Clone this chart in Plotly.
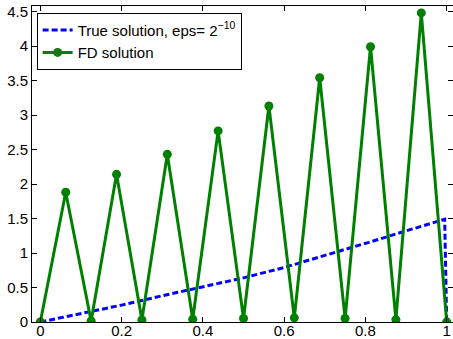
import plotly.graph_objects as go

# FD mesh (h = 1/16) and computed solution values
fd_x = [i / 16 for i in range(17)]
fd_y = [0.0, 1.88, 0.015, 2.14, 0.03, 2.43, 0.04, 2.77, 0.05,
        3.13, 0.06, 3.54, 0.05, 3.99, 0.035, 4.48, 0.0]

# True solution with boundary layer at x = 1
true_x = [0.0, 0.1, 0.2, 0.3, 0.4, 0.5, 0.6, 0.7, 0.8, 0.9, 0.995, 1.0]
true_y = [0.0, 0.12, 0.245, 0.38, 0.51, 0.64, 0.79, 0.96, 1.14, 1.32, 1.49, 0.0]

x_ticks = [0, 0.2, 0.4, 0.6, 0.8, 1]
x_tick_text = ["0", "0.2", "0.4", "0.6", "0.8", "1"]
y_ticks = [0, 0.5, 1, 1.5, 2, 2.5, 3, 3.5, 4, 4.5]
y_tick_text = ["0", "0.5", "1", "1.5", "2", "2.5", "3", "3.5", "4", "4.5"]

FONT = "Liberation Sans, Arial, sans-serif"

fig = go.Figure()
fig.add_trace(go.Scatter(
    x=true_x, y=true_y, mode="lines",
    name="True solution, eps= 2<sup>\u221210</sup>",
    line=dict(color="rgb(0,0,255)", width=3, dash="6px,3px"),
))
fig.add_trace(go.Scatter(
    x=fd_x, y=fd_y, mode="lines+markers",
    name="FD solution",
    line=dict(color="rgb(0,128,0)", width=3),
    marker=dict(color="rgb(0,128,0)", size=9, symbol="circle"),
))

axis_common = dict(
    showgrid=False, zeroline=False, showline=True, linecolor="black",
    linewidth=1, mirror="ticks", ticks="inside", ticklen=5,
    tickcolor="black", tickwidth=1, automargin=False,
    tickfont=dict(family=FONT, size=15, color="black"),
)

fig.update_layout(
    width=453, height=339,
    margin=dict(l=32, r=0, t=6, b=17),
    paper_bgcolor="white", plot_bgcolor="white",
    xaxis=dict(range=[-0.0205, 1.0155], tickvals=x_ticks, ticktext=x_tick_text,
               ticklabelstandoff=-5, **axis_common),
    yaxis=dict(range=[0, 4.58], tickvals=y_ticks, ticktext=y_tick_text, **axis_common),
    legend=dict(
        x=0.011, y=0.979, xanchor="left", yanchor="top",
        bgcolor="white", bordercolor="black", borderwidth=1,
        font=dict(family=FONT, size=15, color="black"),
        tracegroupgap=0, itemwidth=30,
    ),
    showlegend=True,
)

fig.write_html("out.html")
